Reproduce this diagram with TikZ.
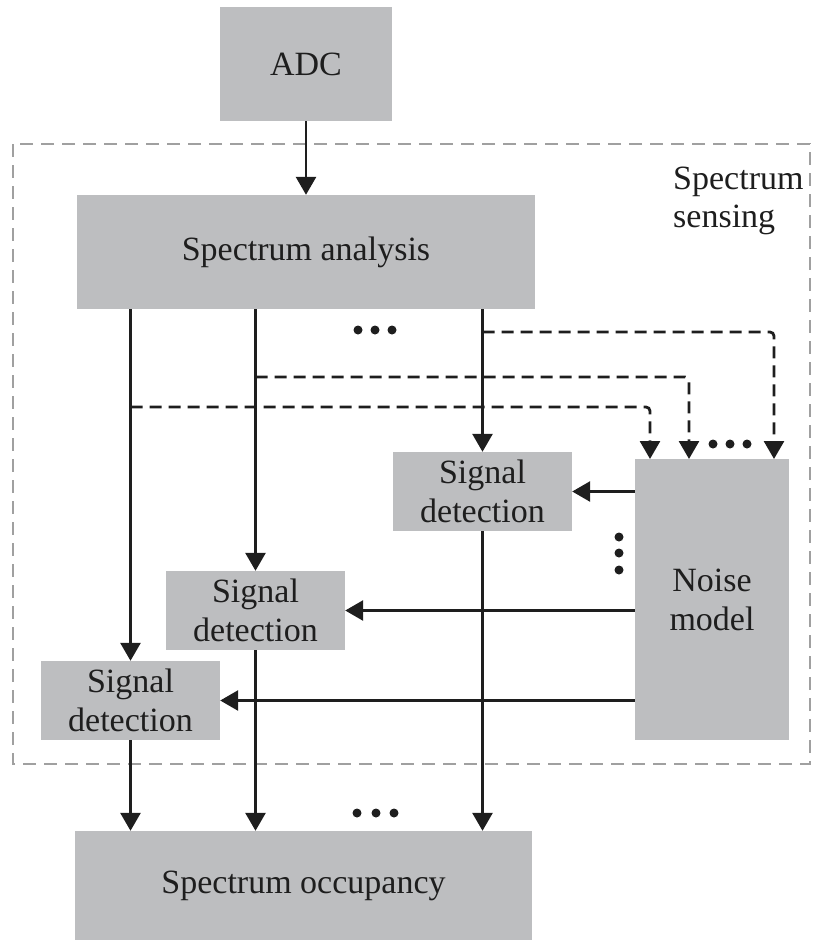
\documentclass[tikz,border=0pt]{standalone}
\usepackage{fontspec}
\setmainfont{Liberation Serif}
\usetikzlibrary{arrows.meta}
\definecolor{boxgray}{RGB}{189,190,192}
\definecolor{ink}{RGB}{30,30,30}
\definecolor{framegray}{RGB}{160,160,160}
\begin{document}
\begin{tikzpicture}[x=1pt,y=-1pt,
  blk/.style={fill=boxgray, draw=none, inner sep=0pt, align=center, text=ink,
    font=\fontsize{34}{39}\selectfont},
  flow/.style={draw=ink, line width=2.8pt, -{Triangle[width=20pt,length=18pt]}},
  dflow/.style={draw=ink, line width=2.8pt, dash pattern=on 12pt off 7pt,
    rounded corners=4pt, -{Triangle[width=20pt,length=18pt]}},
  frame/.style={draw=framegray, line width=2.2pt, dash pattern=on 13pt off 8pt},
  dot/.style={circle, fill=ink, inner sep=0pt, minimum size=9pt},
  lbl/.style={text=ink, inner sep=0pt, align=left, font=\fontsize{34}{38}\selectfont}]
\useasboundingbox (0,0) rectangle (817,943);

% enclosing frame of the sensing stage
\draw[frame] (13,144) rectangle (810,764);
\node[lbl, anchor=north west] (senselbl) at (673,167) {Spectrum\\sensing};

% blocks
\node[blk, minimum width=172pt, minimum height=114pt] (adc) at (306,64) {ADC};
\node[blk, minimum width=458pt, minimum height=114pt] (sa) at (306,252) {Spectrum analysis};
\node[blk, minimum width=179pt, minimum height=79pt] (sd1) at (482.5,491.5) {Signal\\detection};
\node[blk, minimum width=179pt, minimum height=79pt] (sd2) at (255.5,610.5) {Signal\\detection};
\node[blk, minimum width=179pt, minimum height=79pt] (sd3) at (130.5,700.5) {Signal\\detection};
\node[blk, minimum width=154pt, minimum height=281pt] (noise) at (712,599.5) {Noise\\model};
\node[blk, minimum width=457pt, minimum height=109pt] (occ) at (303.5,885.5) {Spectrum occupancy};

% taps on the analysis outputs feeding the noise model
\coordinate (tap1) at (482.5,332);
\coordinate (tap2) at (255.5,377);
\coordinate (tap3) at (130.5,407);
\coordinate (nin1) at (774,459);
\coordinate (nin2) at (689,459);
\coordinate (nin3) at (650,459);

% ADC to analysis
\draw[flow] (adc.south) -- (sa.north);

% analysis outputs to the detectors
\draw[flow] (sd1.north |- sa.south) -- (sd1.north);
\draw[flow] (sd2.north |- sa.south) -- (sd2.north);
\draw[flow] (sd3.north |- sa.south) -- (sd3.north);

% noise model inputs
\draw[dflow] (tap1) -| (nin1);
\draw[dflow] (tap2) -| (nin2);
\draw[dflow] (tap3) -| (nin3);

% noise model to the detectors
\draw[flow] (noise.west |- sd1.east) -- (sd1.east);
\draw[flow] (noise.west |- sd2.east) -- (sd2.east);
\draw[flow] (noise.west |- sd3.east) -- (sd3.east);

% detectors to occupancy
\draw[flow] (sd1.south) -- (sd1.south |- occ.north);
\draw[flow] (sd2.south) -- (sd2.south |- occ.north);
\draw[flow] (sd3.south) -- (sd3.south |- occ.north);

% ellipses
\foreach \i/\x in {1/358,2/375,3/392} \node[dot] (ta\i) at (\x,330) {};
\foreach \i/\x in {1/357,2/376,3/394} \node[dot] (bo\i) at (\x,813) {};
\foreach \i/\x in {1/713,2/730,3/747} \node[dot] (ni\i) at (\x,444) {};
\foreach \i/\y in {1/537,2/553,3/570} \node[dot] (ve\i) at (619,\y) {};
\end{tikzpicture}
\end{document}
